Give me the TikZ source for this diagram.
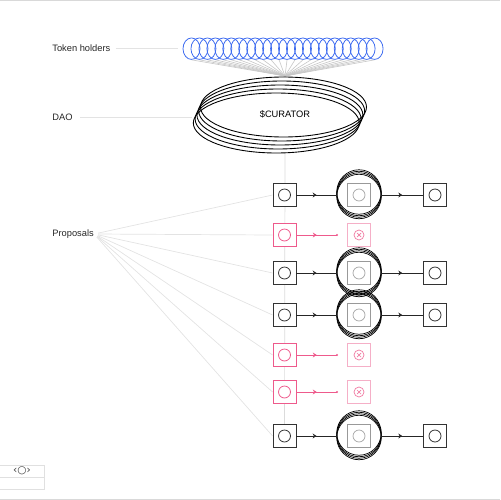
\documentclass[tikz,border=0pt]{standalone}
\usepackage{fontspec}
\setmainfont{Liberation Sans}
\newfontfamily\symfont{DejaVu Sans}
\usetikzlibrary{arrows.meta,decorations.markings,backgrounds,shapes.geometric}

\definecolor{holderblue}{HTML}{3D6BF0}
\definecolor{propred}{HTML}{EE5A8C}
\definecolor{propfade}{HTML}{F5AFC7}

\begin{document}
\begin{tikzpicture}[x=0.02cm, y=-0.02cm, font=\fontsize{5.3}{6.4}\selectfont]
		\tikzset{lbl/.style={anchor=west, inner sep=0pt, text=black!85}};
		\tikzset{guide/.style={draw=black!11, line width=0.4pt}};
		\tikzset{holder/.style={ellipse, draw=holderblue, line width=0.45pt, inner sep=0pt, minimum width=0.34cm, minimum height=0.43cm}};
		\tikzset{sq/.style={draw=black!80, fill=white, line width=0.45pt, inner sep=0pt, minimum size=0.46cm,
			path picture={\draw[black!80, line width=0.45pt] (path picture bounding box.center) circle (0.12cm);}}};
		\tikzset{psq/.style={draw=propred, fill=white, line width=0.45pt, inner sep=0pt, minimum size=0.46cm,
			path picture={\draw[propred, line width=0.45pt] (path picture bounding box.center) circle (0.12cm);}}};
		\tikzset{gsq/.style={draw=black!40, fill=white, line width=0.45pt, inner sep=0pt, minimum size=0.46cm,
			path picture={\draw[black!35, line width=0.4pt] (path picture bounding box.center) circle (0.12cm);}}};
		\tikzset{xsq/.style={draw=propfade, fill=white, line width=0.45pt, inner sep=0pt, minimum size=0.46cm,
			path picture={\draw[propred!80, line width=0.4pt] (path picture bounding box.center) circle (0.1cm);
				\draw[propred!80, line width=0.4pt] ([shift={(-0.04cm,-0.04cm)}]path picture bounding box.center) -- ([shift={(0.04cm,0.04cm)}]path picture bounding box.center);
				\draw[propred!80, line width=0.4pt] ([shift={(-0.04cm,0.04cm)}]path picture bounding box.center) -- ([shift={(0.04cm,-0.04cm)}]path picture bounding box.center);}}};
		\tikzset{ring/.style={circle, inner sep=0pt, minimum size=0.88cm}};
		\tikzset{flow/.style={draw=black!85, line width=0.45pt, postaction={decorate},
			decoration={markings, mark=at position 0.5 with {\arrow{Stealth[length=2.2pt,width=2.8pt]}}}}};
		\tikzset{pflow/.style={flow, draw=propred, fill=propred}};

		\useasboundingbox (0,0) rectangle (500,500);
		\draw[draw=black!15, line width=0.8pt] (0,0.5) -- (500,0.5);
		\draw[draw=black!15, line width=0.8pt] (0,499.5) -- (500,499.5);

		\node[lbl] (tok) at (52,48) {Token holders};
		\node[lbl] (daolab) at (52,117) {DAO};
		\node[lbl] (prop) at (52,234) {Proposals};

		\foreach \i in {1,...,24}
			\node[holder] (h\i) at ({191.5+7.96*(\i-1)},48.7) {};

		\coordinate (daot) at (285,76);
		\coordinate (daob) at (285,152);
		\foreach \i in {1,...,24}
			\draw[draw=black!22, line width=0.35pt] (h\i.south) -- (daot);

		\foreach \k in {0,...,4}
			\draw[black, line width=0.5pt] ({283.5-1.8*\k},{107+4*\k}) ellipse [x radius=1.66cm, y radius=0.6cm];
		\node[inner sep=0pt] (dao) at (285,114) {\$CURATOR};

		\draw[guide, shorten <=0.1cm, shorten >=0.1cm] (tok.east) -- (tok.east -| h1.west);
		\draw[guide, shorten <=0.14cm] (daolab.east) -- (192,117);

		\node[sq] (p1) at (284.5,195) {};
		\node[psq] (p2) at (284.5,235) {};
		\node[sq] (p3) at (284.5,273) {};
		\node[sq] (p4) at (284.5,315) {};
		\node[psq] (p5) at (284.5,355) {};
		\node[psq] (p6) at (284.5,392) {};
		\node[sq] (p7) at (284.5,436) {};

		\begin{scope}[on background layer]
			\draw[guide, draw=black!14] (daob) -- (p7);
			\foreach \p in {p1,p2,p3,p4,p5,p6,p7}
				\draw[guide, shorten <=0.08cm] (prop.east) -- (\p.west);
		\end{scope}

		\node[gsq] (m1) at (359,195) {};
		\node[gsq] (m3) at (359,273) {};
		\node[gsq] (m4) at (359,315) {};
		\node[gsq] (m7) at (359,436) {};

		\node[ring] (r1) at (m1) {};
		\node[ring] (r3) at (m3) {};
		\node[ring] (r4) at (m4) {};
		\node[ring] (r7) at (m7) {};
		\foreach \r in {r1,r3,r4,r7}
			\foreach \d in {-3,-1.5,0,1.5}
				\draw[black, line width=0.4pt] (\r.center) ++(0,\d) circle (0.445cm);

		\node[sq] (q1) at (435,195) {};
		\node[sq] (q3) at (435,273) {};
		\node[sq] (q4) at (435,315) {};
		\node[sq] (q7) at (435,436) {};

		\node[xsq] (x2) at (359,235) {};
		\node[xsq] (x5) at (359,355) {};
		\node[xsq] (x6) at (359,392) {};

		\coordinate (e2) at (337,235);
		\coordinate (e5) at (337,355);
		\coordinate (e6) at (337,392);

		\draw[flow] (p1) -- (r1);
		\draw[flow] (r1) -- (q1);

		\draw[pflow] (p2) -- (e2);
		\fill[propred] (e2) circle (0.6pt);

		\draw[flow] (p3) -- (r3);
		\draw[flow] (r3) -- (q3);

		\draw[flow] (p4) -- (r4);
		\draw[flow] (r4) -- (q4);

		\draw[pflow] (p5) -- (e5);
		\fill[propred] (e5) circle (0.6pt);

		\draw[pflow] (p6) -- (e6);
		\fill[propred] (e6) circle (0.6pt);

		\draw[flow] (p7) -- (r7);
		\draw[flow] (r7) -- (q7);

		\draw[draw=black!12, line width=0.4pt] (0,465) -| (44,489) -- (0,489);
		\draw[draw=black!12, line width=0.4pt] (0,477) -- (44,477);
		\node[inner sep=0pt, text=black!75] (icon) at (22,471) {\symfont\fontsize{6}{6}\selectfont ‹○›};
	\end{tikzpicture}
\end{document}
